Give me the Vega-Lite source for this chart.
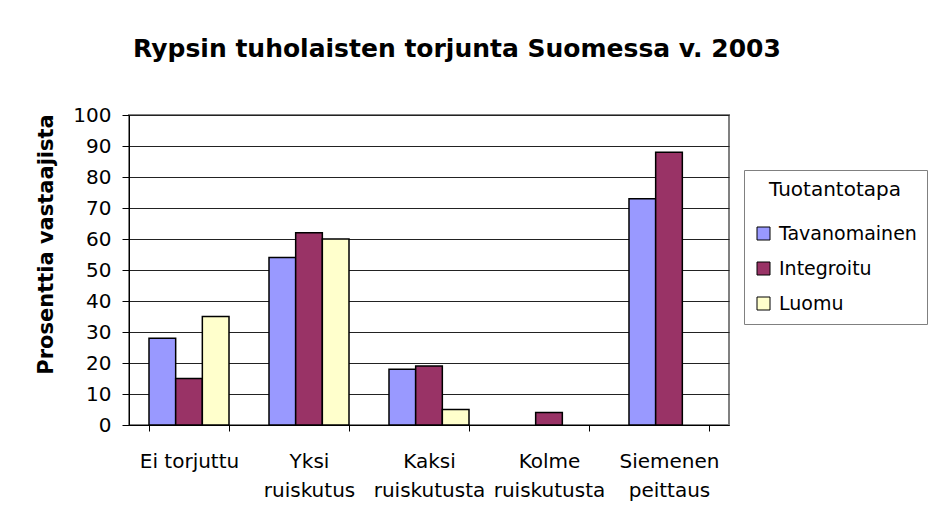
{
  "$schema": "https://vega.github.io/schema/vega-lite/v6.json",
  "width": 600,
  "height": 310,
  "autosize": {"type": "none"},
  "padding": {"left": 129, "top": 115, "right": 202, "bottom": 86},
  "background": "white",
  "title": {
    "text": "Rypsin tuholaisten torjunta Suomessa v. 2003",
    "font": "DejaVu Sans",
    "fontSize": 25,
    "fontWeight": "bold",
    "color": "black",
    "anchor": "middle",
    "baseline": "alphabetic",
    "dx": 28,
    "offset": 23
  },
  "config": {
    "view": {"stroke": "#808080", "strokeWidth": 2},
    "font": "DejaVu Sans"
  },
  "data": {
    "values": [
      {"Torjunta": "Ei torjuttu", "Tuotantotapa": "Tavanomainen", "Prosenttia": 28},
      {"Torjunta": "Ei torjuttu", "Tuotantotapa": "Integroitu", "Prosenttia": 15},
      {"Torjunta": "Ei torjuttu", "Tuotantotapa": "Luomu", "Prosenttia": 35},
      {"Torjunta": "Yksi ruiskutus", "Tuotantotapa": "Tavanomainen", "Prosenttia": 54},
      {"Torjunta": "Yksi ruiskutus", "Tuotantotapa": "Integroitu", "Prosenttia": 62},
      {"Torjunta": "Yksi ruiskutus", "Tuotantotapa": "Luomu", "Prosenttia": 60},
      {"Torjunta": "Kaksi ruiskutusta", "Tuotantotapa": "Tavanomainen", "Prosenttia": 18},
      {"Torjunta": "Kaksi ruiskutusta", "Tuotantotapa": "Integroitu", "Prosenttia": 19},
      {"Torjunta": "Kaksi ruiskutusta", "Tuotantotapa": "Luomu", "Prosenttia": 5},
      {"Torjunta": "Kolme ruiskutusta", "Tuotantotapa": "Integroitu", "Prosenttia": 4},
      {"Torjunta": "Siemenen peittaus", "Tuotantotapa": "Tavanomainen", "Prosenttia": 73},
      {"Torjunta": "Siemenen peittaus", "Tuotantotapa": "Integroitu", "Prosenttia": 88}
    ]
  },
  "mark": {"type": "bar", "stroke": "black", "strokeWidth": 1.5},
  "encoding": {
    "x": {
      "field": "Torjunta",
      "type": "nominal",
      "sort": ["Ei torjuttu", "Yksi ruiskutus", "Kaksi ruiskutusta", "Kolme ruiskutusta", "Siemenen peittaus"],
      "scale": {"paddingInner": 0.3333, "paddingOuter": 0.1667},
      "axis": {
        "title": null,
        "labelAngle": 0,
        "labelFontSize": 20,
        "labelColor": "black",
        "labelPadding": 20,
        "labelBaseline": "top",
        "labelLineHeight": 29,
        "labelOverlap": false,
        "labelExpr": "datum.label == 'Ei torjuttu' ? datum.label : split(datum.label, ' ')",
        "tickBand": "extent",
        "tickColor": "black",
        "tickSize": 6,
        "domainColor": "black",
        "domainWidth": 1,
        "grid": false
      }
    },
    "xOffset": {
      "field": "Tuotantotapa",
      "type": "nominal",
      "scale": {"domain": ["Tavanomainen", "Integroitu", "Luomu"], "paddingInner": 0, "paddingOuter": 0}
    },
    "y": {
      "field": "Prosenttia",
      "type": "quantitative",
      "scale": {"domain": [0, 100]},
      "axis": {
        "values": [0, 10, 20, 30, 40, 50, 60, 70, 80, 90, 100],
        "grid": true,
        "gridColor": "#222222",
        "gridWidth": 1,
        "tickColor": "black",
        "tickSize": 7,
        "labelFontSize": 20,
        "labelColor": "black",
        "labelPadding": 11,
        "domainColor": "black",
        "title": "Prosenttia vastaajista",
        "titleFontSize": 21,
        "titleFontWeight": "bold",
        "titleColor": "black",
        "titleAngle": -90,
        "titleX": -83,
        "titleY": 129,
        "titleAlign": "center",
        "titleBaseline": "middle"
      }
    },
    "color": {
      "field": "Tuotantotapa",
      "type": "nominal",
      "scale": {"domain": ["Tavanomainen", "Integroitu", "Luomu"], "range": ["#9999FF", "#993366", "#FFFFCC"]},
      "legend": {
        "orient": "none",
        "legendX": 615,
        "legendY": 55,
        "title": "Tuotantotapa",
        "titleFontSize": 20,
        "titleFontWeight": "normal",
        "titleColor": "black",
        "titleAnchor": "middle",
        "titlePadding": 24,
        "labelFontSize": 19,
        "labelColor": "black",
        "labelOffset": 6,
        "symbolType": "square",
        "symbolSize": 169,
        "symbolStrokeColor": "black",
        "symbolStrokeWidth": 1,
        "symbolOpacity": 1,
        "strokeColor": "#808080",
        "fillColor": "white",
        "padding": 10,
        "rowPadding": 15
      }
    }
  }
}
